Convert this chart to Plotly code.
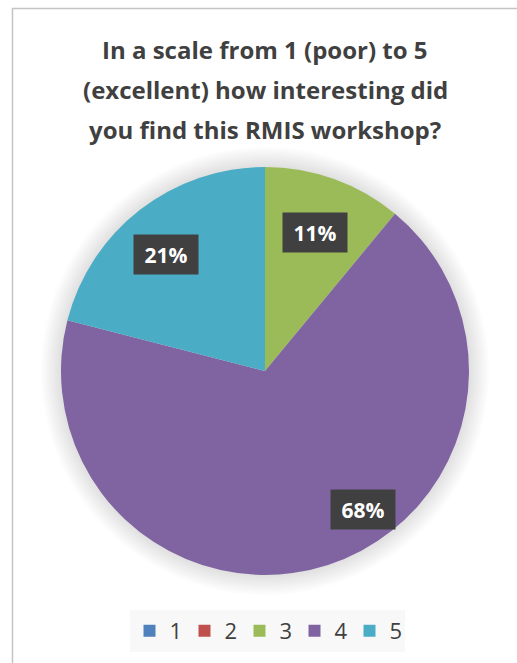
import math
import plotly.graph_objects as go

# ---- data ----
categories = ["1", "2", "3", "4", "5"]
values = [0, 0, 11, 68, 21]
title_lines = ["In a scale from 1 (poor) to 5",
               "(excellent) how interesting did",
               "you find this RMIS workshop?"]

# ---- style ----
colors = ["#4F81BD", "#C0504D", "#9BBB59", "#8064A2", "#4BACC6"]
W, H = 517, 663
dom_x = [61 / W, 469 / W]
dom_y = [1 - 575 / H, 1 - 167 / H]
label_tweak = {"4": (-17.4, 0.83), "5": (-2.5, 0.75)}  # (angle shift deg, radius fraction)
default_frac = 0.72
FONT = "'Open Sans', Lato, sans-serif"

fig = go.Figure()
fig.add_trace(go.Pie(
    labels=categories, values=values, sort=False, direction="clockwise",
    rotation=0, marker=dict(colors=colors, line=dict(width=0)),
    textinfo="none", hoverinfo="label+percent",
    domain=dict(x=dom_x, y=dom_y),
))

total = sum(values)
cx = (dom_x[0] + dom_x[1]) / 2 * W
cy = (1 - (dom_y[0] + dom_y[1]) / 2) * H
r = (dom_x[1] - dom_x[0]) * W / 2

# soft glow around the pie (drawn below the trace)
for k in range(1, 11):
    rr = r + 2 * k
    fig.add_shape(type="circle", xref="paper", yref="paper", layer="below",
                  x0=(cx - rr) / W, x1=(cx + rr) / W,
                  y0=1 - (cy + rr) / H, y1=1 - (cy - rr) / H,
                  line=dict(width=0), fillcolor="rgba(0,0,0,0.012)")

# data labels as boxed annotations, positioned from slice angles
cum = 0
for cat, v in zip(categories, values):
    start = cum
    cum += v
    if v <= 0:
        continue
    mid = (start + v / 2) / total * 360
    shift, frac = label_tweak.get(cat, (0, default_frac))
    a = math.radians(mid + shift)
    px = cx + frac * r * math.sin(a)
    py = cy - frac * r * math.cos(a)
    fig.add_annotation(
        x=px / W, y=1 - py / H, xref="paper", yref="paper",
        text=f"<b>{round(v / total * 100)}%</b>", showarrow=False,
        font=dict(family=FONT, size=21, color="white"),
        bgcolor="#404040", width=64, height=39, borderpad=0,
        xanchor="center", yanchor="middle",
    )

# title lines
for i, line in enumerate(title_lines):
    fig.add_annotation(
        x=265 / W, y=1 - (50 + 40 * i) / H, xref="paper", yref="paper",
        text=f"<b>{line}</b>", showarrow=False,
        font=dict(family=FONT, size=24, color="#404040"),
        xanchor="center", yanchor="middle",
    )

# chart border
fig.add_shape(type="rect", xref="paper", yref="paper",
              x0=12.5 / W, x1=1.01, y0=-0.01, y1=1 - 8.5 / H,
              line=dict(color="#C4C4C4", width=1.5), fillcolor="rgba(0,0,0,0)")

fig.update_layout(
    width=W, height=H, margin=dict(l=0, r=0, t=0, b=0),
    paper_bgcolor="white", plot_bgcolor="white",
    showlegend=True,
    legend=dict(orientation="h", x=267 / W, xanchor="center",
                y=1 - 631 / H, yanchor="middle",
                font=dict(family=FONT, size=22, color="#404040"),
                bgcolor="#F8F8F8", itemwidth=30, entrywidth=10,
                traceorder="normal"),
)

fig.write_html("out.html")
